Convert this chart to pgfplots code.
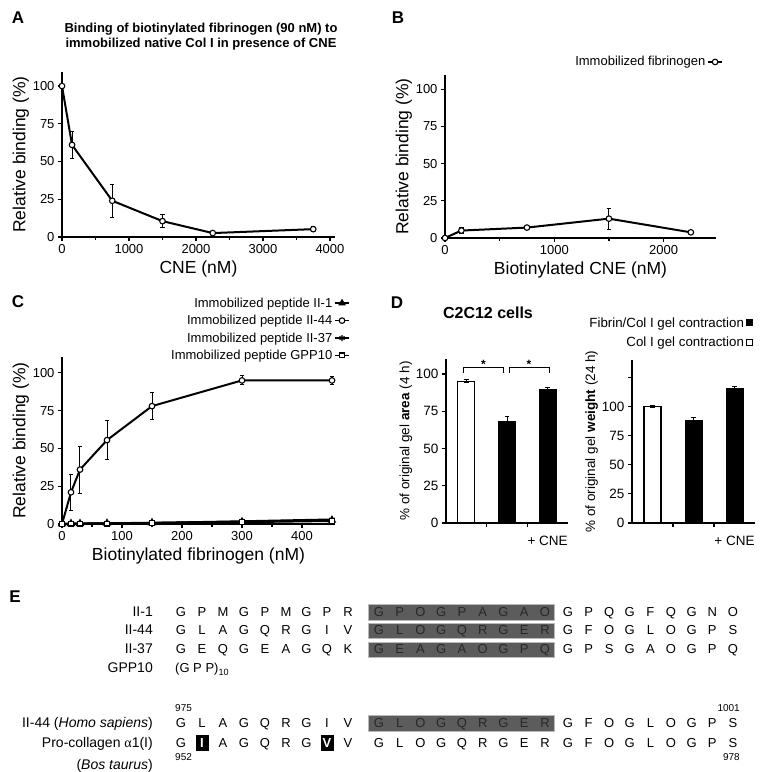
\documentclass[border=0pt]{standalone}
\usepackage{pgfplots}
\usepackage{pgfplotstable}
\pgfplotsset{compat=1.18}
\usepackage{fontspec}
\setmainfont{Liberation Sans}
\newfontfamily\serifgreek{Liberation Serif}
\newcommand\fs[1]{\fontsize{#1}{#1}\selectfont}
\definecolor{boxgray}{RGB}{92,92,92}
\definecolor{boxtext}{RGB}{40,40,40}

\pgfplotsset{
  panel/.style={
    scale only axis, clip=false,
    axis lines*=left,
    axis line style={line width=2pt},
    every tick/.style={black, line width=1.2pt},
    tick align=outside,
    major tick length=4pt, minor tick length=3pt,
    tick label style={font=\fs{13}},
    label style={font=\fs{17.5}},
    ylabel shift=-3pt,
    /pgf/number format/assume math mode=true,
    /pgf/number format/1000 sep={},
    ymin=0,
    legend style={draw=none, fill=none, font=\fs{13}, inner sep=0pt,
      /tikz/every even column/.append style={column sep=3pt}},
    legend cell align=right, legend plot pos=right,
    legend image code/.code={\draw[mark repeat=2,mark phase=2,line width=1.5pt,#1] plot coordinates {(0pt,0pt) (7pt,0pt) (14pt,0pt)};},
  },
  curve/.style={black, line width=2pt, mark=*, mark size=2.8pt, mark options={fill=white, line width=1.1pt, solid}},
  eb/.style={error bars/.cd, y dir=both, y explicit,
    error bar style={line width=1pt, black},
    error mark options={rotate=90, mark size=2.2pt, line width=1pt, black}},
}

\pgfplotstableread{
x y e
0 100 0
150 61 9
750 24 11
1500 10.5 4.5
2250 2.6 0.8
3750 5.2 1.5
}\dataA
\pgfplotstableread{
x y e
0 0 0
150 5 2
750 7 0.5
1500 13 7
2250 3.8 0.5
}\dataB
\pgfplotstableread{
x y e
0 0 0
15 21 12
30 36 15.5
75 55.5 13
150 78 9
300 95 3
450 95 2.5
}\dataCb

\def\xA{181,202,223,244,265,286,306.5,327,348}
\def\xB{379,399.75,420.5,441.25,462,482.75,503.5,524.25,545}
\def\xC{568,588.6,609.2,629.8,650.4,671,691.6,712.2,733}
\newcommand\seg[4]{\foreach \c [count=\i from 0] in {#3} {\pgfmathsetmacro\xx{{#1}[\i]}\node[text=#4, font=\fs{13}, inner sep=0pt, anchor=base] at (\xx,#2) {\c};}}

\begin{document}
\begin{tikzpicture}[x=1pt,y=1pt]
\useasboundingbox (0,0) rectangle (765,772);

% panel letters
\node[font=\bfseries\fs{17}] at (18,754) {A};
\node[font=\bfseries\fs{17}] at (398,754) {B};
\node[font=\bfseries\fs{17}] at (18,470) {C};
\node[font=\bfseries\fs{17}] at (397,469) {D};
\node[font=\bfseries\fs{17}] at (15,175) {E};

% A title
\node[font=\bfseries\fs{13}, align=center] at (201,735) {Binding of biotinylated fibrinogen (90 nM) to\\[2pt]immobilized native Col I in presence of CNE};

% Panel A
\begin{axis}[panel, at={(62pt,535pt)}, anchor=south west, width=273pt, height=165pt,
  xmin=0, xmax=4075, ymax=109.3,
  xtick={0,1000,2000,3000,4000}, minor xtick={500,1500,2500,3500},
  ytick={0,25,50,75,100},
  xlabel={CNE (nM)}, ylabel={Relative binding (\%)}]
\addplot[curve, eb] table[x=x,y=y,y error=e]{\dataA};
\end{axis}

% Panel B
\begin{axis}[panel, at={(445pt,534pt)}, anchor=south west, width=271pt, height=163pt,
  xmin=0, xmax=2480, ymax=109.5,
  xtick={0,1000,2000}, minor xtick={500,1500},
  ytick={0,25,50,75,100},
  xlabel={Biotinylated CNE (nM)}, ylabel={Relative binding (\%)},
  legend style={at={(1.026,1.08)}, anchor=east}]
\addplot[curve, eb] table[x=x,y=y,y error=e]{\dataB};
\addlegendentry{Immobilized fibrinogen}
\end{axis}

% Panel C
\begin{axis}[panel, at={(62pt,248pt)}, anchor=south west, width=273pt, height=167pt,
  xmin=0, xmax=455, ymax=110.5,
  xtick={0,100,200,300,400}, minor xtick={50,150,250,350},
  ytick={0,25,50,75,100},
  xlabel={Biotinylated fibrinogen (nM)}, ylabel={Relative binding (\%)},
  legend style={at={(1.055,1.368)}, anchor=north east, row sep=2.5pt}]
\addplot[black, line width=2pt, mark=triangle*, mark size=3pt, mark options={fill=black, solid}] coordinates {(0,0) (15,0.3) (30,0.3) (75,0.5) (150,0.8) (300,1.5) (450,2.5)};
\addlegendentry{Immobilized peptide II-1}
\addplot[curve, eb] table[x=x,y=y,y error=e]{\dataCb};
\addlegendentry{Immobilized peptide II-44}
\addplot[black, line width=2pt, mark=asterisk, mark size=3pt, mark options={line width=1.2pt, solid}] coordinates {(0,0) (15,0.2) (30,0.3) (75,0.4) (150,0.7) (300,1.8) (450,3)};
\addlegendentry{Immobilized peptide II-37}
\addplot[black, line width=2pt, mark=square*, mark size=2.4pt, mark options={fill=white, line width=1.2pt, solid}] coordinates {(0,0) (15,0.2) (30,0.2) (75,0.3) (150,0.6) (300,1.2) (450,2)};
\addlegendentry{Immobilized peptide GPP10}
\end{axis}

% Panel D title
\node[font=\bfseries\fs{16}] at (488,459) {C2C12 cells};

% Panel D left
\begin{axis}[panel, at={(446pt,249pt)}, anchor=south west, width=122pt, height=164pt,
  xmin=0.5, xmax=3.5, ymax=110,
  ytick={0,25,50,75,100}, xtick={1.5,2.5}, xticklabels={},
  tick label style={font=\fs{13.5}}, label style={font=\fs{13.5}},
  ylabel={\% of original gel \textbf{area} (4 h)},
  ybar, bar width=17pt, bar shift=0pt]
\addplot[fill=white, draw=black, line width=1.2pt, eb] coordinates {(1,95) +- (0,1)};
\addplot[fill=black, draw=black, eb] coordinates {(2,68) +- (0,3.5) (3,89.5) +- (0,1.5)};
\draw[line width=1pt] (axis cs:0.92,100.5) |- (axis cs:1.92,104) -- (axis cs:1.92,100.5);
\draw[line width=1pt] (axis cs:2.05,100.5) |- (axis cs:3.05,104) -- (axis cs:3.05,100.5);
\node[font=\bfseries\fs{12}, anchor=north] at (axis cs:1.42,111.5) {*};
\node[font=\bfseries\fs{12}, anchor=north] at (axis cs:2.54,111.5) {*};
\node[font=\fs{13.5}, anchor=base] at (axis cs:3,0) [yshift=-23pt] {+ CNE};
\end{axis}

% Panel D right
\begin{axis}[panel, at={(632pt,249pt)}, anchor=south west, width=123pt, height=163pt,
  xmin=0.5, xmax=3.5, ymax=140,
  ytick={0,25,50,75,100,125}, yticklabels={0,25,50,75,100,{}},
  xtick={1.5,2.5}, xticklabels={},
  tick label style={font=\fs{13.5}}, label style={font=\fs{13.5}},
  ylabel={\% of original gel \textbf{weight} (24 h)},
  ybar, bar width=17pt, bar shift=0pt,
  legend style={at={(0.985,1.275)}, anchor=north east, row sep=4pt, font=\fs{13.3}},
  legend image code/.code={\draw[#1, line width=1pt] (0pt,-3pt) rectangle (6pt,3pt);}]
\addplot[fill=black, draw=black, eb] coordinates {(2,88) +- (0,3) (3,115.5) +- (0,2)};
\addlegendentry{Fibrin/Col I gel contraction}
\addplot[fill=white, draw=black, line width=1.2pt, eb] coordinates {(1,100) +- (0,0.6)};
\addlegendentry{Col I gel contraction}
\node[font=\fs{13.5}, anchor=base] at (axis cs:3,0) [yshift=-23pt] {+ CNE};
\end{axis}

% Panel E: sequence alignment
\begin{scope}[font=\fs{14}]
\foreach \y in {155.5,137,118,44.5} {
  \fill[boxgray] (368,\y-3.5) rectangle (554,\y+12);
  \draw[gray!55, line width=0.8pt] (368,\y-3.5) rectangle (554,\y+12);
}
\fill[black] (195.5,21) rectangle (208.5,36.5);
\fill[black] (320.5,21) rectangle (333.5,36.5);
\node[anchor=base east, inner sep=0pt] at (153,155.5) {II-1};
\node[anchor=base east, inner sep=0pt] at (153,137) {II-44};
\node[anchor=base east, inner sep=0pt] at (153,118) {II-37};
\node[anchor=base east, inner sep=0pt] at (153,99) {GPP10};
\node[anchor=base east, inner sep=0pt] at (153,44.5) {II-44 (\textit{Homo sapiens})};
\node[anchor=base east, inner sep=0pt] at (153,24.5) {Pro-collagen {\serifgreek α}1(I)};
\node[anchor=base east, inner sep=0pt] at (153,2) {(\textit{Bos taurus})};
\node[anchor=base west, inner sep=0pt, font=\fs{13}] at (175,99) {(G P P)\textsubscript{10}};
\node[anchor=base west, inner sep=0pt, font=\fs{10}] at (175,60) {975};
\node[anchor=base east, inner sep=0pt, font=\fs{10}] at (740,60) {1001};
\node[anchor=base west, inner sep=0pt, font=\fs{10}] at (175,11) {952};
\node[anchor=base east, inner sep=0pt, font=\fs{10}] at (740,11) {978};
\seg{\xA}{155.5}{G,P,M,G,P,M,G,P,R}{black}
\seg{\xB}{155.5}{G,P,O,G,P,A,G,A,O}{boxtext}
\seg{\xC}{155.5}{G,P,Q,G,F,Q,G,N,O}{black}
\seg{\xA}{137}{G,L,A,G,Q,R,G,I,V}{black}
\seg{\xB}{137}{G,L,O,G,Q,R,G,E,R}{boxtext}
\seg{\xC}{137}{G,F,O,G,L,O,G,P,S}{black}
\seg{\xA}{118}{G,E,Q,G,E,A,G,Q,K}{black}
\seg{\xB}{118}{G,E,A,G,A,O,G,P,Q}{boxtext}
\seg{\xC}{118}{G,P,S,G,A,O,G,P,Q}{black}
\seg{\xA}{44.5}{G,L,A,G,Q,R,G,I,V}{black}
\seg{\xB}{44.5}{G,L,O,G,Q,R,G,E,R}{boxtext}
\seg{\xC}{44.5}{G,F,O,G,L,O,G,P,S}{black}
\seg{\xA}{24.5}{G,\textbf{I},A,G,Q,R,G,\textbf{V},V}{black}
\seg{\xB}{24.5}{G,L,O,G,Q,R,G,E,R}{black}
\seg{\xC}{24.5}{G,F,O,G,L,O,G,P,S}{black}
\node[text=white, font=\bfseries\fs{13}, anchor=base, inner sep=0pt] at (202,24.5) {I};
\node[text=white, font=\bfseries\fs{13}, anchor=base, inner sep=0pt] at (327,24.5) {V};
\end{scope}
\end{tikzpicture}
\end{document}
